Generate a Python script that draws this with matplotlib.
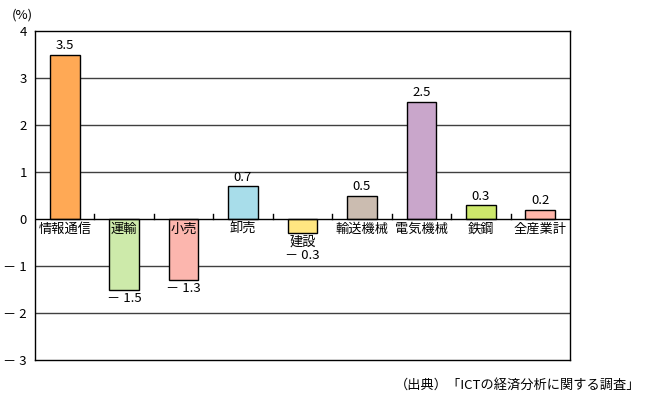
import matplotlib
matplotlib.use("Agg")
import matplotlib.pyplot as plt

plt.rcParams['font.family'] = ['Noto Sans CJK JP', 'DejaVu Sans']

categories = ['情報通信', '運輸', '小売', '卸売', '建設', '輸送機械', '電気機械', '鉄鋼', '全産業計']
values = [3.5, -1.5, -1.3, 0.7, -0.3, 0.5, 2.5, 0.3, 0.2]
value_labels = ['3.5', '－ 1.5', '－ 1.3', '0.7', '－ 0.3', '0.5', '2.5', '0.3', '0.2']
colors = ['#FFA955', '#CDEAAA', '#FCB6AE', '#A8DDEA', '#FFE681', '#CBBCB0', '#C9A6CB', '#CDE86B', '#FFB6AA']
yticks = [-3, -2, -1, 0, 1, 2, 3, 4]
ytick_labels = ['－ 3', '－ 2', '－ 1', '0', '1', '2', '3', '4']

fig = plt.figure(figsize=(6.46, 4.03), dpi=100)
ax = fig.add_axes([35/646, 43/403, 535/646, 329/403])

x = list(range(len(categories)))
ax.bar(x, values, width=0.5, color=colors, edgecolor='black', linewidth=1, zorder=3)
ax.set_xlim(-0.5, len(categories) - 0.5)
ax.set_ylim(-3, 4)

for yv in [-2, -1, 1, 2, 3]:
    ax.axhline(yv, color='#404040', linewidth=1, zorder=1)
ax.axhline(0, color='black', linewidth=1, zorder=4)

# boundary ticks on zero line
for i in range(1, len(categories)):
    ax.plot([i - 0.5, i - 0.5], [0, 0.1], color='black', linewidth=1, zorder=4)

fs = 9.5
for i, (v, lab, cat) in enumerate(zip(values, value_labels, categories)):
    if v >= 0:
        ax.text(i, v + 0.05, lab, ha='center', va='bottom', fontsize=fs)
        ax.text(i, -0.08, cat, ha='center', va='top', fontsize=fs, zorder=5)
    else:
        if v < -0.6:
            ax.text(i, -0.08, cat, ha='center', va='top', fontsize=fs, zorder=5)
            ax.text(i, v - 0.05, lab, ha='center', va='top', fontsize=fs)
        else:
            ax.text(i, v - 0.05, cat, ha='center', va='top', fontsize=fs)
            ax.text(i, v - 0.33, lab, ha='center', va='top', fontsize=fs)

ax.set_xticks([])
ax.set_yticks(yticks)
ax.set_yticklabels(ytick_labels, fontsize=fs)
ax.tick_params(axis='y', direction='out', length=0, pad=6)
for s in ax.spines.values():
    s.set_color('black')
    s.set_linewidth(1)

fig.text(22/646, 1 - 15/403, '(%)', ha='center', va='center', fontsize=fs)
fig.text(640/646, 1 - 385/403, '（出典）「ICTの経済分析に関する調査」', ha='right', va='center', fontsize=fs)

fig.savefig('out.png', dpi=100)
